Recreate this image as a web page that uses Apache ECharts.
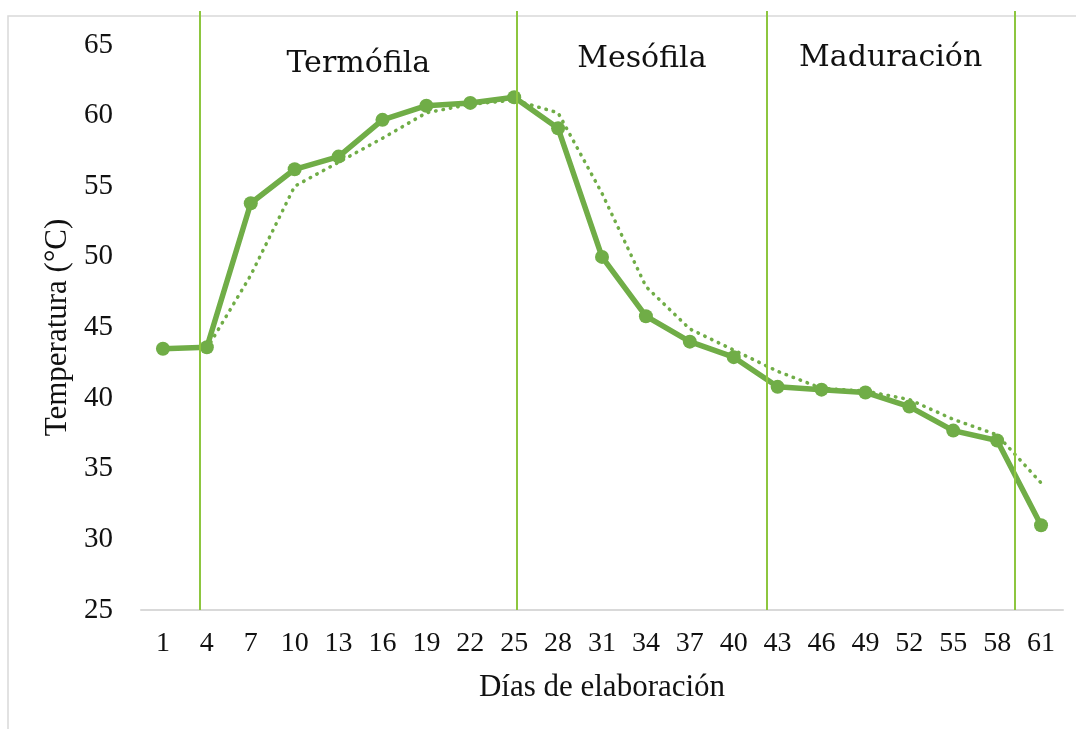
<!DOCTYPE html>
<html>
<head>
<meta charset="utf-8">
<script src="https://cdn.jsdelivr.net/npm/echarts@6/dist/echarts.min.js"></script>
<style>
  html, body { margin: 0; padding: 0; background: #fff; }
  #chart { width: 1076px; height: 729px; }
</style>
</head>
<body>
<div id="chart"></div>
<script>
// días de elaboración (eje X)
const dias = [1, 4, 7, 10, 13, 16, 19, 22, 25, 28, 31, 34, 37, 40, 43, 46, 49, 52, 55, 58, 61]
// temperatura medida (°C)
const temperatura = [43.5, 43.6, 53.8, 56.2, 57.1, 59.7, 60.7, 60.9, 61.3, 59.1, 50.0, 45.8,
  44.0, 42.9, 40.8, 40.6, 40.4, 39.4, 37.7, 37.0, 31.0]
// línea de tendencia punteada (media móvil)
const tendencia = [null, 43.5, 48.7, 55.0, 56.7, 58.4, 60.2, 60.8, 61.1, 60.2, 54.5, 47.9,
  44.9, 43.4, 41.9, 40.7, 40.5, 39.9, 38.5, 37.4, 34.0]
// límites de fase (en días) y nombres
const limitesFase = [3.5, 25.2, 42.25, 59.2]
const fases = ['Termófila', 'Mesófila', 'Maduración']
const distanciaFase = [38, 33, 32]

const verde = '#70AD47'
const verdeLinea = '#8DC63F'
const fuenteEje = '"Liberation Serif", "Times New Roman", serif'

const chart = echarts.init(document.getElementById('chart'))

const option = {
  animation: false,
  graphic: [
    {
      // marco gris del gráfico
      type: 'rect',
      shape: { x: 8, y: 16, width: 1200, height: 800 },
      style: { fill: 'none', stroke: '#d9d9d9', lineWidth: 1.5 },
      silent: true,
      z: -10
    }
  ],
  grid: [
    { left: 141, right: 13, top: 45, bottom: 119 },
    { left: 141, right: 13, top: 11, bottom: 119 }
  ],
  xAxis: [
    {
      type: 'category',
      data: dias,
      boundaryGap: true,
      axisLine: { show: true, lineStyle: { color: '#d9d9d9', width: 2 } },
      axisTick: { show: false },
      axisLabel: { fontFamily: fuenteEje, fontSize: 28, color: '#111', margin: 20 },
      name: 'Días de elaboración',
      nameLocation: 'middle',
      nameGap: 62,
      nameTextStyle: { fontFamily: fuenteEje, fontSize: 31, color: '#111' }
    },
    {
      type: 'value',
      gridIndex: 1,
      min: -0.5,
      max: 62.5,
      show: false
    }
  ],
  yAxis: [
    {
      type: 'value',
      min: 25,
      max: 65,
      interval: 5,
      axisLine: { show: false },
      axisTick: { show: false },
      splitLine: { show: false },
      axisLabel: { fontFamily: fuenteEje, fontSize: 29, color: '#111', margin: 28 },
      name: 'Temperatura (°C)',
      nameLocation: 'middle',
      nameGap: 65,
      nameRotate: 90,
      nameTextStyle: { fontFamily: fuenteEje, fontSize: 31, color: '#111' }
    },
    {
      type: 'value',
      gridIndex: 1,
      min: 0,
      max: 1,
      show: false
    }
  ],
  series: [
    {
      // líneas verticales y nombres de las fases
      type: 'line',
      xAxisIndex: 1,
      yAxisIndex: 1,
      data: [],
      silent: true,
      z: 1,
      markLine: {
        symbol: 'none',
        silent: true,
        label: { show: false },
        lineStyle: { color: verdeLinea, width: 2, type: 'solid' },
        data: limitesFase.map(d => ({ xAxis: d }))
      },
      markArea: {
        silent: true,
        itemStyle: { color: 'rgba(0,0,0,0)' },
        data: fases.map((f, i) => [
          {
            name: f,
            xAxis: limitesFase[i],
            label: {
              show: true,
              position: 'insideTop',
              distance: distanciaFase[i],
              fontFamily: '"DejaVu Serif", serif',
              fontSize: 30,
              color: '#111'
            }
          },
          { xAxis: limitesFase[i + 1] }
        ])
      }
    },
    {
      type: 'line',
      data: tendencia,
      symbol: 'none',
      z: 3,
      lineStyle: { color: verde, width: 3.5, type: [0.5, 7], cap: 'round' }
    },
    {
      type: 'line',
      data: temperatura,
      symbol: 'circle',
      symbolSize: 14,
      z: 4,
      itemStyle: { color: verde },
      lineStyle: { color: verde, width: 5.5 }
    }
  ]
}

chart.setOption(option)
window.addEventListener('resize', () => chart.resize())
</script>
</body>
</html>
